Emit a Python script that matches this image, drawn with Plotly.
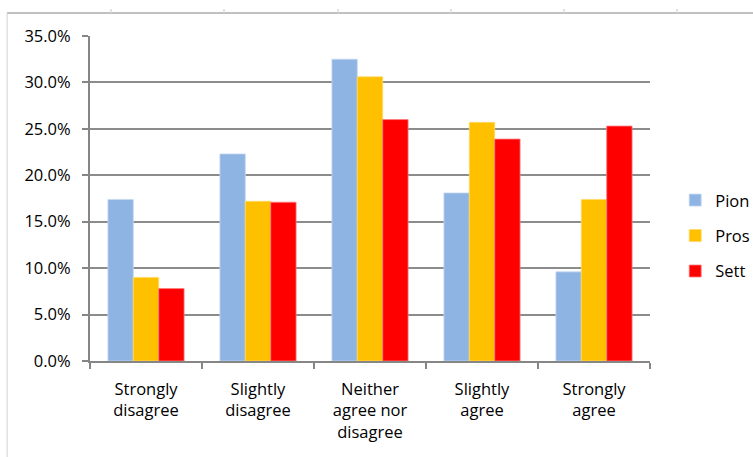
import plotly.graph_objects as go

categories = ["Strongly<br>disagree", "Slightly<br>disagree", "Neither<br>agree nor<br>disagree",
              "Slightly<br>agree", "Strongly<br>agree"]
pion = [0.174, 0.223, 0.325, 0.181, 0.096]
pros = [0.090, 0.172, 0.306, 0.257, 0.174]
sett = [0.078, 0.171, 0.260, 0.239, 0.253]
y_ticks = [0, 0.05, 0.10, 0.15, 0.20, 0.25, 0.30, 0.35]

series = [("Pion", pion, "#8EB4E3", "#C6D9F1"),
          ("Pros", pros, "#FFC000", "#FFD966"),
          ("Sett", sett, "#FF0000", "#FF7F7F")]

FONT = "'Open Sans', Lato, sans-serif"

fig = go.Figure()
for i, (name, vals, col, edge) in enumerate(series):
    fig.add_trace(go.Bar(
        x=categories, y=vals, name=name,
        marker=dict(color=col, line=dict(color=edge, width=0.8)),
        legendgroup=str(i),
    ))

fig.update_layout(
    width=753, height=457,
    margin=dict(l=90, r=103, t=36, b=96, autoexpand=False),
    plot_bgcolor="white", paper_bgcolor="white",
    barmode="group", bargap=0.32, bargroupgap=0,
    font=dict(family=FONT, size=16.5, color="#000000"),
    legend=dict(x=1.045, y=0.385, xanchor="left", yanchor="middle",
                font=dict(size=16.5), tracegroupgap=11, itemwidth=30),
    showlegend=True,
)
fig.update_xaxes(
    showline=True, linecolor="#868686", linewidth=2,
    ticks="outside", tickson="boundaries", ticklen=6, tickcolor="#868686", tickwidth=1.5,
    showgrid=False, ticklabelstandoff=12,
)
fig.update_yaxes(
    range=[0, 0.35], tickvals=y_ticks, tickformat=".1%",
    showline=True, linecolor="#868686", linewidth=2,
    ticks="outside", ticklen=6, tickcolor="#868686", tickwidth=1.5,
    showgrid=True, gridcolor="#8C8C8C", gridwidth=1.5,
    zeroline=False, ticklabelstandoff=8,
)

# sheet frame lines around the chart
fig.add_shape(type="line", xref="paper", yref="paper",
              x0=-0.148, x1=1.2, y0=1.071, y1=1.071,
              line=dict(color="#C0C0C0", width=2))
fig.add_shape(type="line", xref="paper", yref="paper",
              x0=-0.148, x1=-0.148, y0=1.071, y1=-0.30,
              line=dict(color="#D0D0D0", width=1))
for xp in [111, 224, 338, 451, 564, 677]:
    fx = (xp - 90) / 560
    fig.add_shape(type="line", xref="paper", yref="paper",
                  x0=fx, x1=fx, y0=1.071, y1=1.083,
                  line=dict(color="#D8D8D8", width=1.5))

fig.write_html("out.html")
